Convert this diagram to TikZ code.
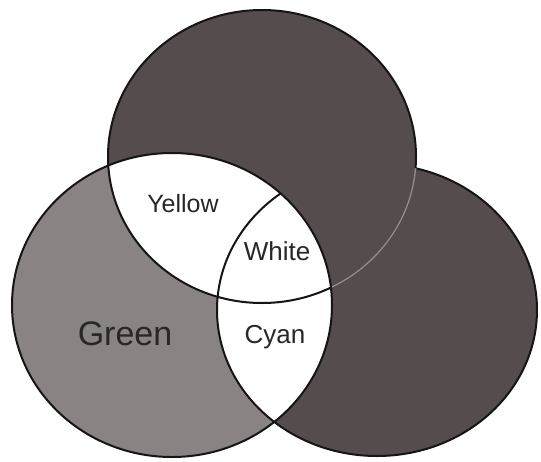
\documentclass[tikz,border=0pt]{standalone}
\usepackage{fontspec}
\setmainfont{Liberation Sans}
\definecolor{darkfill}{RGB}{84,76,77}
\definecolor{greenfill}{RGB}{138,131,131}
\definecolor{edgecol}{RGB}{22,20,20}
\definecolor{faintcol}{RGB}{150,145,145}
\definecolor{textcol}{RGB}{40,38,38}
\tikzset{
  outline/.style={draw=edgecol, line width=2pt},
  lbl/.style={anchor=base, inner sep=0pt, text=textcol, font=\fontsize{25}{25}\selectfont},
  biglbl/.style={anchor=base, inner sep=0pt, text=textcol, font=\fontsize{34}{34}\selectfont}
}
\begin{document}
\begin{tikzpicture}[x=1pt,y=-1pt]
\useasboundingbox (0,0) rectangle (541,461);
\fill[white] (0,0) rectangle (541,461);
% right circle
\fill[darkfill] (377,310) ellipse [x radius=160pt, y radius=146pt];
\draw[outline] (377,310) ellipse [x radius=160pt, y radius=146pt];
% top circle
\fill[darkfill] (262,156.5) ellipse [x radius=154pt, y radius=146.5pt];
\draw[outline] (262,156.5) ellipse [x radius=154pt, y radius=146.5pt];
\begin{scope}
  \clip (377,310) ellipse [x radius=160pt, y radius=146pt];
  \draw[darkfill, line width=3pt] (262,156.5) ellipse [x radius=154pt, y radius=146.5pt];
  \draw[faintcol, line width=1.2pt] (262,156.5) ellipse [x radius=154pt, y radius=146.5pt];
\end{scope}
% left circle
\fill[greenfill] (172,305) ellipse [x radius=160pt, y radius=152pt];
\begin{scope}
  \clip (172,305) ellipse [x radius=160pt, y radius=152pt];
  \fill[white] (262,156.5) ellipse [x radius=154pt, y radius=146.5pt];
  \fill[white] (377,310) ellipse [x radius=160pt, y radius=146pt];
  \draw[outline] (262,156.5) ellipse [x radius=154pt, y radius=146.5pt];
  \draw[outline] (377,310) ellipse [x radius=160pt, y radius=146pt];
\end{scope}
\draw[outline] (172,305) ellipse [x radius=160pt, y radius=152pt];
% labels
\node[lbl] (yellow) at (183,212.5) {Yellow};
\node[lbl, font=\fontsize{26}{26}\selectfont] (white) at (277,260.5) {White};
\node[lbl, font=\fontsize{26}{26}\selectfont] (cyan) at (275,343) {Cyan};
\node[biglbl] (green) at (125,345) {Green};
\end{tikzpicture}
\end{document}
